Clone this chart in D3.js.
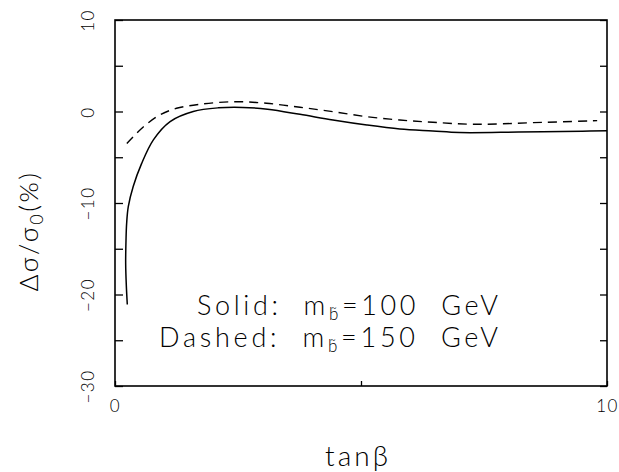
<!DOCTYPE html>
<html>
<head>
<meta charset="utf-8">
<script src="https://cdn.jsdelivr.net/npm/d3@7"></script>
<style>
  body { margin: 0; background: #fff; }
  text { font-family: Lato, "Open Sans", sans-serif; font-weight: 300; fill: #000; }
</style>
</head>
<body>
<script>
// values
const solidTan   = [0.25, 0.23, 0.217, 0.224, 0.237, 0.27, 0.37, 0.54, 0.78, 1.12, 1.59, 2.1, 2.6, 3.1, 3.76, 4.43, 5.12, 5.79, 6.46, 7.0, 8.2, 9.5, 10]
const solidDelta = [-21.1, -19, -16.6, -14, -12.2, -10.4, -8.2, -5.7, -3.1, -1.1, 0, 0.4, 0.45, 0.25, -0.31, -0.93, -1.48, -1.91, -2.13, -2.3, -2.25, -2.15, -2.1]
const dashedTan   = [0.24, 0.58, 0.91, 1.25, 1.73, 2.4, 3.08, 3.76, 4.43, 5.12, 5.79, 6.46, 7.35, 8.5, 9.8]
const dashedDelta = [-3.5, -1.66, -0.38, 0.35, 0.79, 1.07, 0.9, 0.46, -0.02, -0.57, -0.93, -1.18, -1.4, -1.22, -1.0]
const yTicks = [-30, -25, -20, -15, -10, -5, 0, 5, 10]
const xTicks = [0, 5, 10]
const legendLines = [
    {pre: "Solid:  m", sub: "b\u0303", post: "=100  GeV", len: 301},
    {pre: "Dashed:  m", sub: "b\u0303", post: "=150  GeV", len: 339}
]

width = 619
height = 472
const m = {left: 115, right: 607, top: 20, bottom: 386}

const svg = d3.select("body").append("svg")
    .attr("width", width)
    .attr("height", height)

x = d3.scaleLinear().domain([0, 10]).range([m.left, m.right])
y = d3.scaleLinear().domain([-30, 10]).range([m.bottom, m.top])

// ticks, all pointing inward
const lab = d => d % 10 === 0 ? d3.format("d")(d) : ""
svg.append("g")
    .attr("transform", `translate(${m.left},0)`)
    .call(d3.axisLeft(y).tickValues(yTicks).tickSizeInner(-8).tickSizeOuter(0).tickFormat(lab))
    .call(g => g.select(".domain").remove())
    .call(g => g.selectAll("text")
        .attr("x", 0).attr("dy", 0)
        .attr("transform", "translate(-21,0) rotate(-90)")
        .attr("text-anchor", "middle")
        .style("letter-spacing", "1.5px"))
svg.append("g")
    .attr("transform", `translate(${m.right},0)`)
    .call(d3.axisRight(y).tickValues(yTicks).tickSizeInner(-7).tickSizeOuter(0).tickFormat(""))
    .call(g => g.select(".domain").remove())
svg.append("g")
    .attr("transform", `translate(0,${m.bottom})`)
    .call(d3.axisBottom(x).tickValues(xTicks).tickSizeInner(-5).tickSizeOuter(0).tickFormat(d => d === 5 ? "" : d))
    .call(g => g.select(".domain").remove())
    .call(g => g.selectAll("text").attr("y", 26).attr("dy", 0).style("letter-spacing", "1.5px"))
svg.selectAll(".tick line").attr("stroke", "#000").attr("stroke-width", 1.3)
svg.selectAll(".tick text")
    .attr("fill", "#000")
    .style("font-size", "17px")
    .style("font-weight", 300)
    .style("font-family", "Lato, sans-serif")

// frame
svg.append("rect")
    .attr("x", m.left).attr("y", m.top)
    .attr("width", m.right - m.left).attr("height", m.bottom - m.top)
    .attr("fill", "none").attr("stroke", "#000").attr("stroke-width", 1.6)

// curves
line = d3.line()
    .x(d => x(d[0]))
    .y(d => y(d[1]))
    .curve(d3.curveCatmullRom)

svg.append("path")
    .datum(solidTan.map((t, i) => [t, solidDelta[i]]))
    .attr("d", line)
    .attr("fill", "none").attr("stroke", "#000").attr("stroke-width", 1.5)

svg.append("path")
    .datum(dashedTan.map((t, i) => [t, dashedDelta[i]]))
    .attr("d", line)
    .attr("fill", "none").attr("stroke", "#000").attr("stroke-width", 1.4)
    .attr("stroke-dasharray", "9,6")

// legend text
legendLines.forEach((l, i) => {
    const t = svg.append("text")
        .attr("x", 498 - l.len).attr("y", 315 + i * 32)
        .attr("textLength", l.len)
        .attr("lengthAdjust", "spacing")
        .attr("xml:space", "preserve")
        .style("white-space", "pre")
        .style("font-size", "27px")
    t.append("tspan").text(l.pre)
    t.append("tspan").text(l.sub).attr("dy", 5).style("font-size", "17px")
    t.append("tspan").text(l.post).attr("dy", -5)
})

// axis titles
svg.append("text")
    .attr("x", 358).attr("y", 466)
    .attr("text-anchor", "middle")
    .style("font-size", "28px")
    .style("letter-spacing", "3px")
    .text("tan\u03b2")

const yt = svg.append("text")
    .attr("transform", "translate(38,231) rotate(-90)")
    .attr("text-anchor", "middle")
    .style("font-size", "26px")
    .style("letter-spacing", "2.5px")
yt.append("tspan").text("\u0394\u03c3/\u03c3")
yt.append("tspan").text("0").attr("dy", 5).style("font-size", "18px")
yt.append("tspan").text("(%)").attr("dy", -5)
</script>
</body>
</html>
